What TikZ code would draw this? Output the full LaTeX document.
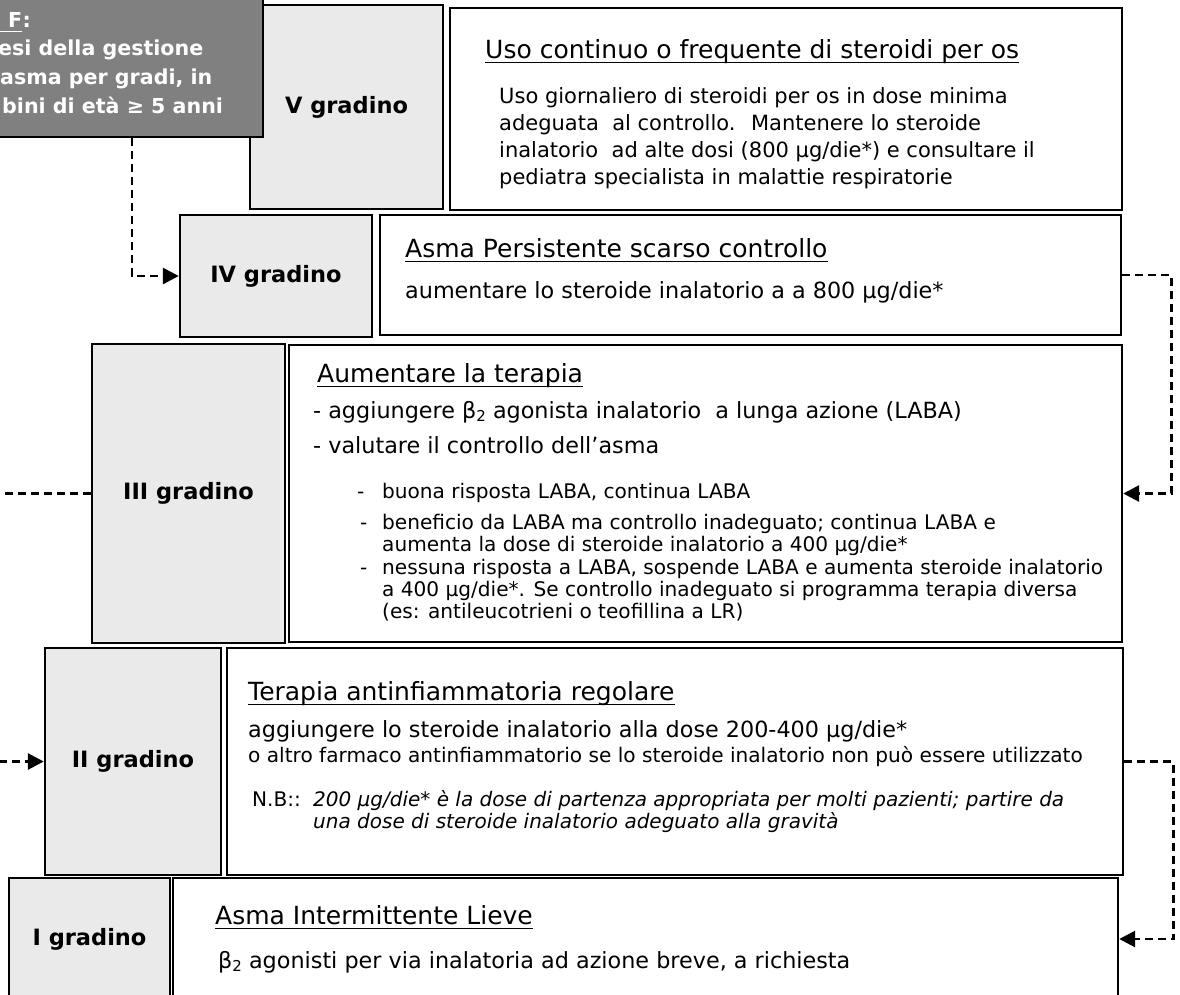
\documentclass[tikz,border=0pt]{standalone}
\usepackage{fontspec}
\setmainfont{DejaVu Sans}
\usetikzlibrary{arrows.meta}
\definecolor{gradgray}{HTML}{EAEAEA}
\definecolor{headgray}{HTML}{808080}
% underline drawn under a named text node
\newcommand{\sottolinea}[2][black]{\draw[#1, line width=1.8pt] ([yshift=-4.5pt]#2.base west) -- ([yshift=-4.5pt]#2.base east);}
% beta with a lowered 2
\newcommand{\betadue}{β\raisebox{-3.5pt}{\fontsize{15}{15}\selectfont 2}}

\begin{document}
\begin{tikzpicture}[x=1pt, y=-1pt,
  grado/.style={draw, line width=2.4pt, fill=gradgray, inner sep=0pt,
    font=\fontsize{22.5}{26}\selectfont\bfseries},
  riquadro/.style={draw, line width=2.4pt, fill=white, inner sep=0pt},
  titolo/.style={anchor=base west, inner sep=0pt, font=\fontsize{25}{30}\selectfont},
  corpo/.style={anchor=base west, inner sep=0pt, font=\fontsize{22.3}{26}\selectfont},
  piccolo/.style={anchor=base west, inner sep=0pt, font=\fontsize{20.1}{24}\selectfont},
  intesta/.style={anchor=base west, inner sep=0pt, text=white,
    font=\fontsize{20.6}{24}\selectfont\bfseries},
  freccia/.style={line width=2.8pt, dash pattern=on 8pt off 5pt,
    -{Triangle[length=16pt,width=16pt]}},
  ]
  \useasboundingbox (0,0) rectangle (1180,994);
  \clip (0,0) rectangle (1180,994);

  % ---------- V gradino ----------
  \node[grado, minimum width=193pt, minimum height=204pt] (g5) at (346.5,107) {V gradino};
  \node[riquadro, minimum width=672pt, minimum height=202pt] (c5) at (786,109) {};
  \node[titolo] (t5) at (485,58) {Uso continuo o frequente di steroidi per os};
  \node[corpo, font=\fontsize{21}{25}\selectfont] (v5a) at (499,103) {Uso giornaliero di steroidi per os in dose minima};
  \node[corpo, font=\fontsize{21}{25}\selectfont] (v5b) at (499,130) {adeguata \ al controllo. \ Mantenere lo steroide};
  \node[corpo, font=\fontsize{21}{25}\selectfont] (v5c) at (499,157) {inalatorio \ ad alte dosi (800 µg/die*) e consultare il};
  \node[corpo, font=\fontsize{21}{25}\selectfont] (v5d) at (499,184) {pediatra specialista in malattie respiratorie};
  \sottolinea{t5}

  % ---------- header box (cut at the page edge) ----------
  \node[draw=black, line width=2.4pt, fill=headgray, inner sep=0pt,
    minimum width=283pt, minimum height=157pt] (tb) at (121.5,58.5) {};
  \node[intesta] (h1) at (0,27) {\hspace*{8pt}F};
  \node[intesta] (h1b) at (h1.base east) {:};
  \node[intesta] (h2) at (-2,55) {esi della gestione};
  \node[intesta] (h3) at (0,84) {asma per gradi, in};
  \node[intesta] (h4) at (2,113) {bini di età ≥ 5 anni};
  \sottolinea[white]{h1}

  % ---------- IV gradino ----------
  \node[grado, minimum width=192pt, minimum height=122pt] (g4) at (276,276) {IV gradino};
  \node[riquadro, minimum width=741pt, minimum height=120pt] (c4) at (750.5,275) {};
  \node[titolo] (t4) at (405,257) {Asma Persistente scarso controllo};
  \node[corpo] (v4a) at (405,298) {aumentare lo steroide inalatorio a a 800 µg/die*};
  \sottolinea{t4}

  % ---------- III gradino ----------
  \node[grado, minimum width=193pt, minimum height=299pt] (g3) at (188.5,493.5) {III gradino};
  \node[riquadro, minimum width=833pt, minimum height=297pt] (c3) at (705.5,493.5) {};
  \node[titolo] (t3) at (317,382) {Aumentare la terapia};
  \node[corpo] (v3a) at (313,418) {- aggiungere \betadue\ agonista inalatorio \ a lunga azione (LABA)};
  \node[corpo] (v3b) at (313,453) {- valutare il controllo dell’asma};
  \node[piccolo] (v3c) at (357,498) {\makebox[25pt][l]{-}buona risposta LABA, continua LABA};
  \node[piccolo] (v3d) at (360,529) {\makebox[22pt][l]{-}beneficio da LABA ma controllo inadeguato; continua LABA e};
  \node[piccolo] (v3e) at (382,551) {aumenta la dose di steroide inalatorio a 400 µg/die*};
  \node[piccolo] (v3f) at (360,574) {\makebox[22pt][l]{-}nessuna risposta a LABA, sospende LABA e aumenta steroide inalatorio};
  \node[piccolo] (v3g) at (382,596) {a 400 µg/die*. Se controllo inadeguato si programma terapia diversa};
  \node[piccolo] (v3h) at (382,618) {(es: antileucotrieni o teofillina a LR)};
  \sottolinea{t3}

  % ---------- II gradino ----------
  \node[grado, minimum width=176pt, minimum height=227pt] (g2) at (133,761.5) {II gradino};
  \node[riquadro, minimum width=896pt, minimum height=227pt] (c2) at (675,761.5) {};
  \node[titolo] (t2) at (248,700) {Terapia antinfiammatoria regolare};
  \node[corpo] (v2a) at (248,737) {aggiungere lo steroide inalatorio alla dose 200-400 µg/die*};
  \node[piccolo] (v2b) at (248,762) {o altro farmaco antinfiammatorio se lo steroide inalatorio non può essere utilizzato};
  \node[piccolo] (nb) at (252,806) {N.B::};
  \node[piccolo, font=\fontsize{20}{24}\selectfont\itshape] (v2c) at (313,806)
    {200 µg/die* è la dose di partenza appropriata per molti pazienti; partire da};
  \node[piccolo, font=\fontsize{20}{24}\selectfont\itshape] (v2d) at (313,828)
    {una dose di steroide inalatorio adeguato alla gravità};
  \sottolinea{t2}

  % ---------- I gradino ----------
  \node[grado, minimum width=161pt, minimum height=122pt] (g1) at (89.5,939) {I gradino};
  \node[riquadro, minimum width=945pt, minimum height=122pt] (c1) at (645.5,939) {};
  \node[titolo] (t1) at (215,924) {Asma Intermittente Lieve};
  \node[corpo] (v1a) at (218,968) {\betadue\ agonisti per via inalatoria ad azione breve, a richiesta};
  \sottolinea{t1}

  % ---------- connectors ----------
  \draw[freccia] ([xshift=10.5pt]tb.south) |- (g4.west);
  \draw[freccia] (c4.east) -- ++(49,0) |- (c3.east);
  \draw[freccia] (g3.west) -- ++(-120,0) |- (g2.west);
  \draw[freccia] (c2.east) -- ++(49,0) |- (c1.east);
\end{tikzpicture}
\end{document}
